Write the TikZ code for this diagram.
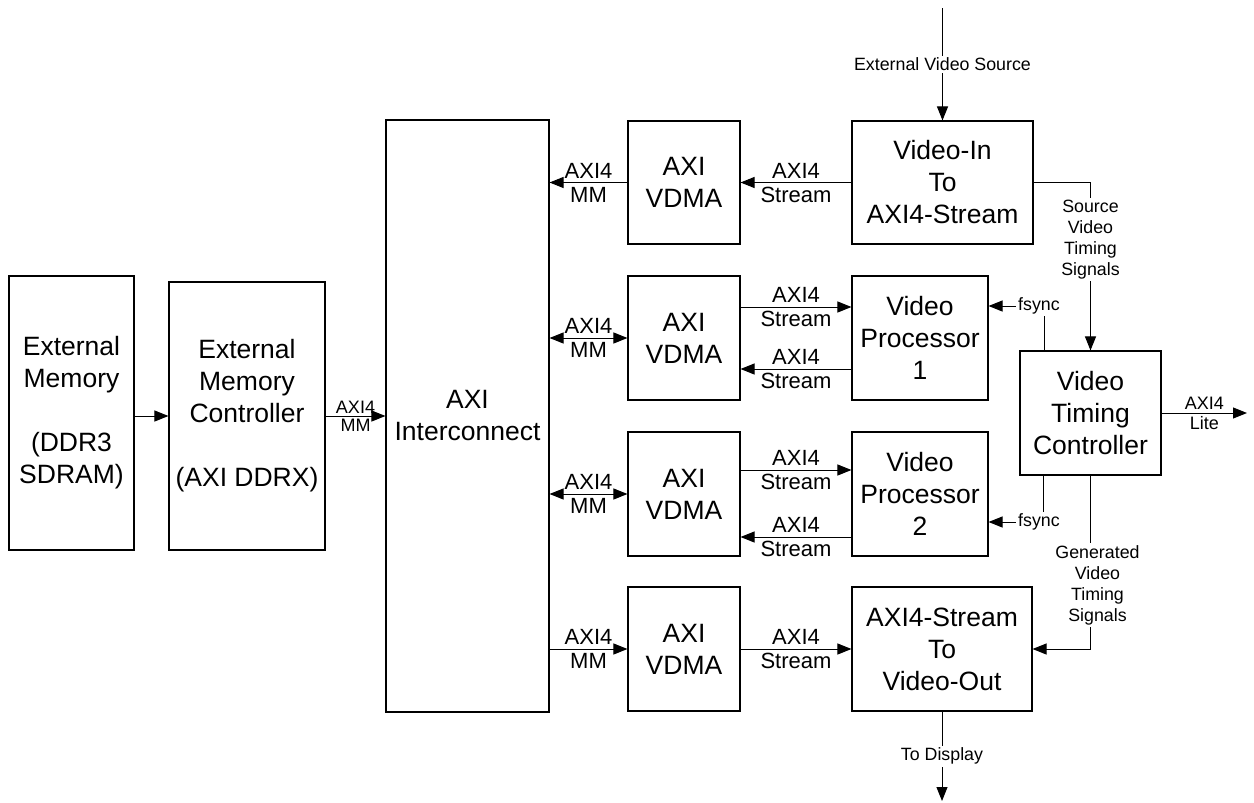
\documentclass[tikz,border=0pt]{standalone}
\usepackage{fontspec}
\setmainfont{Liberation Sans}
\usetikzlibrary{arrows.meta}
\begin{document}
\begin{tikzpicture}[x=1pt,y=-1pt,
 box/.style={draw, line width=1.1pt, align=center, inner sep=0pt, font=\fontsize{26.5}{32}\selectfont},
 arr/.style={line width=1pt, -{Triangle[length=14pt,width=11pt]}},
 barr/.style={line width=1pt, {Triangle[length=14pt,width=11pt]}-{Triangle[length=14pt,width=11pt]}},
 mlbl/.style={font=\fontsize{22}{26}\selectfont},
 slbl/.style={font=\fontsize{17.8}{21}\selectfont},
 tlbl/.style={font=\fontsize{18}{21}\selectfont},
 ab/.style={midway, above, inner sep=4pt},
 be/.style={midway, below, inner sep=4pt},
 cover/.style={slbl, fill=white, inner sep=2pt, align=center}]
\useasboundingbox (0,0) rectangle (1254,803);

% blocks
\node[box, minimum width=125, minimum height=274] (em) at (71.5,413) {External\\Memory\\\mbox{}\\(DDR3\\SDRAM)};
\node[box, minimum width=156, minimum height=268] (emc) at (247,416) {External\\Memory\\Controller\\\mbox{}\\(AXI DDRX)};
\node[box, minimum width=163, minimum height=592] (ic) at (467.5,416) {AXI\\Interconnect};
\node[box, minimum width=112, minimum height=123] (vd1) at (684,182.5) {AXI\\VDMA};
\node[box, minimum width=181, minimum height=123] (vin) at (942.5,182.5) {Video-In\\To\\AXI4-Stream};
\node[box, minimum width=112, minimum height=124] (vd2) at (684,338) {AXI\\VDMA};
\node[box, minimum width=136, minimum height=124] (vp1) at (920,338) {Video\\Processor\\1};
\node[box, minimum width=112, minimum height=124] (vd3) at (684,494) {AXI\\VDMA};
\node[box, minimum width=136, minimum height=124] (vp2) at (920,494) {Video\\Processor\\2};
\node[box, minimum width=112, minimum height=124] (vd4) at (684,649) {AXI\\VDMA};
\node[box, minimum width=180, minimum height=124] (vout) at (942,649) {AXI4-Stream\\To\\Video-Out};
\node[box, minimum width=141, minimum height=124] (vtc) at (1090.5,413) {Video\\Timing\\Controller};

\coordinate (src) at (942.5,8);
\coordinate (disp) at (942,801);
\coordinate (lite) at (1247,413);

% memory side
\draw[arr] (emc.west -| em.east) -- (emc.west);
\draw[arr] (emc.east) -- (emc.east -| ic.west)
  node[midway, above, inner sep=2pt, tlbl]{AXI4}
  node[midway, below, inner sep=3pt, tlbl]{MM};

% row 1
\draw[arr] (vd1.west) -- (vd1.west -| ic.east) node[ab, mlbl]{AXI4} node[be, mlbl]{MM};
\draw[arr] (vin.west) -- (vd1.east) node[ab, mlbl]{AXI4} node[be, mlbl]{Stream};

% row 2
\draw[barr] (vd2.west -| ic.east) -- (vd2.west) node[ab, mlbl]{AXI4} node[be, mlbl]{MM};
\draw[arr] ([yshift=31pt]vd2.east) -- ([yshift=31pt]vp1.west) node[ab, mlbl]{AXI4} node[be, mlbl]{Stream};
\draw[arr] ([yshift=-31pt]vp1.west) -- ([yshift=-31pt]vd2.east) node[ab, mlbl]{AXI4} node[be, mlbl]{Stream};

% row 3
\draw[barr] (vd3.west -| ic.east) -- (vd3.west) node[ab, mlbl]{AXI4} node[be, mlbl]{MM};
\draw[arr] ([yshift=24pt]vd3.east) -- ([yshift=24pt]vp2.west) node[ab, mlbl]{AXI4} node[be, mlbl]{Stream};
\draw[arr] ([yshift=-43pt]vp2.west) -- ([yshift=-43pt]vd3.east) node[ab, mlbl]{AXI4} node[be, mlbl]{Stream};

% row 4
\draw[arr] (vd4.west -| ic.east) -- (vd4.west) node[ab, mlbl]{AXI4} node[be, mlbl]{MM};
\draw[arr] (vd4.east) -- (vout.west) node[ab, mlbl]{AXI4} node[be, mlbl]{Stream};

% video in / out
\draw[arr] (src) -- node[cover, pos=0.5]{External Video Source} (vin.north);
\draw[arr] (vout.south) -- node[cover, pos=0.5]{To Display} (disp);

% timing
\draw[arr] (vin.east) -| node[cover, pos=0.67]{Source\\Video\\Timing\\Signals} (vtc.north);
\draw[arr] ([xshift=-46.5pt]vtc.north) |- node[cover, pos=0.5, xshift=-5pt]{fsync} ([yshift=32pt]vp1.east);
\draw[arr] ([xshift=-47.5pt]vtc.south) |- node[cover, pos=0.5, xshift=-4pt]{fsync} ([yshift=-28pt]vp2.east);
\draw[arr] (vtc.south) |- node[cover, pos=0.316, xshift=7pt]{Generated\\Video\\Timing\\Signals} (vout.east);
\draw[arr] (vtc.east) -- (lite)
  node[midway, above, inner sep=3pt, tlbl]{AXI4}
  node[midway, below, inner sep=3pt, tlbl]{Lite};
\end{tikzpicture}
\end{document}
